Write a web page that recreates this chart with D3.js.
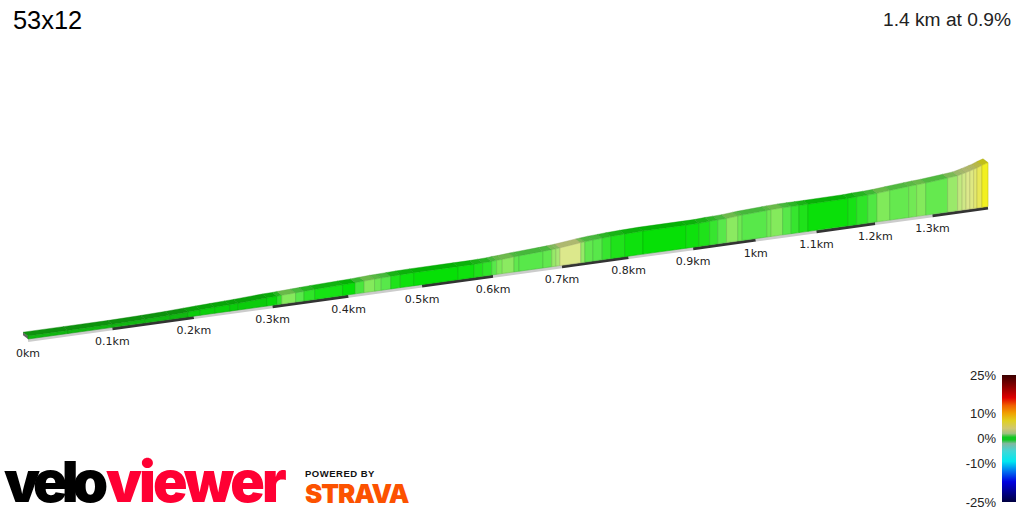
<!DOCTYPE html>
<html>
<head>
<meta charset="utf-8">
<title>53x12</title>
<style>
  html, body { margin: 0; padding: 0; background: #fff; overflow: hidden; }
  svg { display: block; }
  text { font-family: "Liberation Sans", Arial, sans-serif; }
</style>
</head>
<body>
<script src="https://cdn.jsdelivr.net/npm/d3@7"></script>
<script>

// data //////////////////////////////////////////////

var title = "53x12";
var subtitle = "1.4 km at 0.9%";

// distance at each segment break (km)
var segKm = [0, .047, .1, .14, .17, .193, .208, .226, .245, .256, .293, .306, .312, .33, .341, .355,
	.392, .409, .421, .435, .444, .457, .47, .489, .55, .573, .585, .598, .605, .613, .63, .637,
	.672, .685, .691, .697, .728, .734, .746, .76, .773, .794, .822, .889, .909, .926, .939, .953,
	.971, .978, 1.018, 1.025, 1.044, 1.058, 1.071, 1.086, 1.153, 1.168, 1.187, 1.203, 1.225, 1.258,
	1.272, 1.288, 1.327, 1.345, 1.353, 1.36, 1.367, 1.374, 1.38, 1.389, 1.4];

// elevation at each break (m)
var segElev = [0, .01, .01, .14, .3, .5, .62, .76, .9, .98, 1.35, 1.42, 1.5, 1.62, 1.72, 1.85,
	2.05, 2.16, 2.29, 2.41, 2.46, 2.55, 2.62, 2.7, 2.74, 2.75, 2.81, 2.89, 3.03, 3.08, 3.32, 3.41,
	3.76, 3.91, 3.99, 4.1, 4.76, 4.84, 5.05, 5.2, 5.35, 5.51, 5.67, 5.74, 5.77, 5.95, 6.02, 6.11,
	6.39, 6.5, 6.87, 6.95, 7.06, 7.08, 7.1, 7.11, 7.27, 7.41, 7.51, 7.67, 8, 8.49,
	8.66, 8.84, 9.48, 9.81, 10.13, 10.44, 10.77, 11.1, 11.4, 12, 12.6];

// shade of each segment, as a gradient class
var segGrade = [0, 0, 0, 0, 0, .5, .6, .6, .5, .5, .8, 1.5, 3, 2, 1.5, 1.2,
	1, 1.8, 3, 2.5, 2, 1.3, 1.1, 1, 1.1, 1.3, 1.5, 2, 2.8, 3.2, 2.2, 2,
	2.2, 3.5, 4, 6, 3.5, 2.2, 2, 1.6, 1.3, 1.1, 1, 1.1, 1.3, 1.6, 2, 3.2,
	2.5, 2, 2.5, 3, 2, 1.6, 1.3, 1.05, 1.2, 1.5, 1.9, 2.9, 2.3, 2.6,
	3, 2.3, 3.6, 5, 5.5, 6, 6.2, 6.5, 7, 8];

var tickKm = [0, .1, .2, .3, .4, .5, .6, .7, .8, .9, 1, 1.1, 1.2, 1.3];
var tickLabels = ["0km", "0.1km", "0.2km", "0.3km", "0.4km", "0.5km", "0.6km", "0.7km", "0.8km", "0.9km", "1km", "1.1km", "1.2km", "1.3km"];

var wallGrades = [0, 1, 2, 3, 4, 6, 7, 8];
var wallColors = ["#10b810", "#06e006", "#58e84a", "#84ea5c", "#a8e874", "#dce88c", "#e8e858", "#f2f020"];

var legendTicks = [25, 10, 0, -10, -25];
var legendGrades = [25, 21, 16, 13, 10, 7, 4, 2, .5, -.5, -2, -5, -9, -13, -17, -21, -25];
var legendColors = ["#3a0000", "#800000", "#e00000", "#f06000", "#f0a000", "#e0d020", "#d0c870", "#a0c080", "#10c820", "#10c820", "#80b8a0", "#40d8d8", "#00e8f0", "#0070f0", "#0000e0", "#000090", "#000040"];


// helpers //////////////////////////////////////////////////////////////////

var width = 1024, height = 512;

var persp = 0.181;	// foreshortening along the road
var depth = d => d / (1 + persp * d);

var x = d3.scaleLinear().domain([0, depth(1.4)]).range([28, 988]);
var ground = d3.scaleLinear().domain([28, 988]).range([339, 206.5]);
var lift = d3.scaleLinear().domain([0, 1]).range([0, 4.13]);
var floor = 0.726;	// wall height at elevation 0 (m)

var color = d3.scaleLinear().domain(wallGrades).range(wallColors);

var px = d => x(depth(d));
var py = d => ground(px(d));
var topY = (d, e) => py(d) - lift(e + floor) / (1 + persp * d);

var back = {x: -5, y: -3.8};

var svg = d3.select("body").append("svg")
	.attr("width", width)
	.attr("height", height);

svg.append("rect").attr("width", width).attr("height", height).attr("fill", "#fff");

svg.append("text").attr("x", 13).attr("y", 29)
	.attr("font-size", 25.4).attr("fill", "#000").text(title);
svg.append("text").attr("x", 1011).attr("y", 26).attr("text-anchor", "end")
	.attr("font-size", 19.2).attr("fill", "#222").text(subtitle);


// ground strip //////////////////////////////////////////////////////////////

var strip = svg.append("g");
var stripEnds = tickKm.concat([1.4]);
d3.pairs(stripEnds).forEach(function(p, i) {
	strip.append("line")
		.attr("x1", px(p[0])).attr("y1", py(p[0]) + 1.5)
		.attr("x2", px(p[1])).attr("y2", py(p[1]) + 1.5)
		.attr("stroke", i % 2 ? "#333" : "#ccc")
		.attr("stroke-width", 3);
});


// road /////////////////////////////////////////////////////////////////////

var segs = segGrade.map((g, i) => ({
	d0: segKm[i], d1: segKm[i + 1],
	e0: segElev[i], e1: segElev[i + 1],
	grade: g,
}));

var poly = pts => "M" + pts.map(p => p.join(",")).join("L") + "Z";

// left end of the road
svg.append("path")
	.attr("d", poly([
		[px(0) + back.x, topY(0, 0) + back.y],
		[px(0), topY(0, 0)],
		[px(0), py(0)],
		[px(0) + back.x, py(0) + back.y],
	]))
	.attr("fill", "#666");

// top surface
svg.append("g").selectAll("path")
	.data(segs)
	.join("path")
	.attr("d", s => poly([
		[px(s.d0), topY(s.d0, s.e0)],
		[px(s.d1), topY(s.d1, s.e1)],
		[px(s.d1) + back.x, topY(s.d1, s.e1) + back.y],
		[px(s.d0) + back.x, topY(s.d0, s.e0) + back.y],
	]))
	.attr("fill", s => d3.color(color(s.grade)).darker(0.65))
	.attr("stroke", s => d3.color(color(s.grade)).darker(1))
	.attr("stroke-width", 0.4);

// front wall
svg.append("g").selectAll("path")
	.data(segs)
	.join("path")
	.attr("d", s => poly([
		[px(s.d0), py(s.d0)],
		[px(s.d1), py(s.d1)],
		[px(s.d1), topY(s.d1, s.e1)],
		[px(s.d0), topY(s.d0, s.e0)],
	]))
	.attr("fill", s => color(s.grade))
	.attr("stroke", s => d3.color(color(s.grade)).darker(0.6))
	.attr("stroke-width", 0.6);

svg.append("g").selectAll("text")
	.data(tickKm)
	.join("text")
	.attr("x", d => px(d))
	.attr("y", d => py(d) + 18)
	.attr("text-anchor", "middle")
	.attr("font-size", 11)
	.attr("fill", "#222")
	.style("font-family", "'DejaVu Sans', Verdana, sans-serif")
	.text((d, i) => tickLabels[i]);


// legend ////////////////////////////////////////////////////////////////////

var legendY = d3.scaleLinear().domain([25, -25]).range([375, 502]);

var grad = svg.append("defs").append("linearGradient")
	.attr("id", "legend-grad")
	.attr("x1", 0).attr("x2", 0).attr("y1", 0).attr("y2", 1);
grad.selectAll("stop")
	.data(legendGrades)
	.join("stop")
	.attr("offset", g => (25 - g) / 50)
	.attr("stop-color", (g, i) => legendColors[i]);

svg.append("rect")
	.attr("x", 1002).attr("y", legendY(25))
	.attr("width", 14).attr("height", legendY(-25) - legendY(25))
	.attr("fill", "url(#legend-grad)");

svg.append("g").selectAll("text")
	.data(legendTicks)
	.join("text")
	.attr("x", 996)
	.attr("y", g => legendY(g) + 4.5)
	.attr("text-anchor", "end")
	.attr("font-size", 13)
	.attr("fill", "#222")
	.text(g => g + "%");


// branding //////////////////////////////////////////////////////////////////

var logoFont = "Inter, 'Liberation Sans', sans-serif";

svg.append("text")
	.attr("x", 4).attr("y", 502)
	.attr("font-size", 57).attr("font-weight", 900)
	.attr("letter-spacing", -6)
	.style("font-family", logoFont)
	.attr("fill", "#000")
	.text("velo");

svg.append("text")
	.attr("x", 106).attr("y", 502)
	.attr("font-size", 57).attr("font-weight", 900)
	.attr("letter-spacing", -3)
	.style("font-family", logoFont)
	.attr("fill", "#ff0033")
	.text("viewer");

svg.append("text").attr("x", 305).attr("y", 477)
	.attr("font-size", 9.5).attr("font-weight", 700).attr("fill", "#111")
	.attr("letter-spacing", 0.5)
	.text("POWERED BY");

svg.append("text").attr("x", 305).attr("y", 503)
	.attr("font-size", 26).attr("font-weight", 900)
	.attr("letter-spacing", -1.1)
	.style("font-family", logoFont)
	.attr("fill", "#fc5200")
	.text("STRAVA");

</script>
</body>
</html>
